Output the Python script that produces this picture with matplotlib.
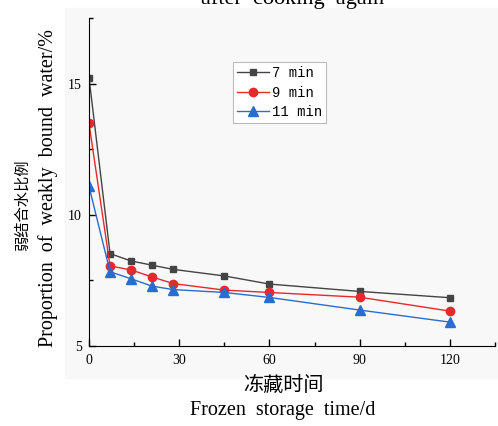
import matplotlib
matplotlib.use("Agg")
from matplotlib import pyplot as plt
from matplotlib.patches import Rectangle
from matplotlib.ticker import MultipleLocator

days = [0, 7, 14, 21, 28, 45, 60, 90, 120]
min7 = [15.23, 8.52, 8.24, 8.08, 7.92, 7.67, 7.36, 7.08, 6.84]
min9 = [13.48, 8.05, 7.90, 7.63, 7.38, 7.13, 7.04, 6.86, 6.33]
min11 = [11.08, 7.83, 7.56, 7.28, 7.15, 7.04, 6.85, 6.37, 5.91]
labels = ["7 min", "9 min", "11 min"]

serif = ["Liberation Serif", "DejaVu Serif"]
cjk = ["Noto Sans CJK SC", "DejaVu Sans"]

fig = plt.figure(figsize=(4.98, 4.26), dpi=100)
fig.patches.append(Rectangle((65 / 498, 1 - 378 / 426), 433 / 498, 370 / 426,
                             transform=fig.transFigure, color="#f8f8f8", zorder=-5))
ax = fig.add_axes([89 / 498, 1 - 346 / 426, 406 / 498, 328 / 426])
ax.set_zorder(2)
ax.patch.set_alpha(0)

ax.plot(days, min7, color="#444444", marker="s", markersize=5, lw=1, label=labels[0])
ax.plot(days, min9, color="#e8282a", marker="o", markersize=6, lw=1, label=labels[1])
ax.plot(days, min11, color="#2a6ccf", marker="^", markersize=6.5, lw=1, label=labels[2])

ax.set_xlim(0, 135)
ax.set_ylim(5, 17.5)
ax.xaxis.set_major_locator(MultipleLocator(30))
ax.xaxis.set_minor_locator(MultipleLocator(15))
ax.yaxis.set_major_locator(MultipleLocator(5))
ax.yaxis.set_minor_locator(MultipleLocator(2.5))
ax.tick_params(which="both", direction="in", width=1, labelsize=10)
ax.tick_params(which="major", length=5)
ax.tick_params(which="minor", length=3)
ax.tick_params(axis="x", pad=6)
ax.tick_params(axis="y", pad=5)
ax.spines["top"].set_visible(False)
ax.spines["right"].set_visible(False)
ax.set_xticks([0, 30, 60, 90, 120])
for tl in ax.get_xticklabels() + ax.get_yticklabels():
    tl.set_family(serif)

leg = ax.legend(loc="upper left", bbox_to_anchor=(233 / 498, 1 - 62 / 426),
                bbox_transform=fig.transFigure, prop={"family": "Liberation Mono", "size": 10},
                handlelength=2.3, handletextpad=0.2, labelspacing=0.4, borderpad=0.3,
                borderaxespad=0, fancybox=False, framealpha=1, edgecolor="#bbbbbb")
leg.get_frame().set_linewidth(0.8)

fig.text(293 / 498, 1 - 4 / 426, "after  cooking  again", family=serif, fontsize=16,
         ha="center", va="baseline")
fig.text(283 / 498, 1 - 385 / 426, "冻藏时间", family=cjk, fontsize=14.5, ha="center", va="center")
fig.text(283 / 498, 1 - 411 / 426, "Frozen  storage  time/d", family=serif, fontsize=14.5,
         ha="center", va="center")
fig.text(22 / 498, 1 - 205 / 426, "弱结合水比例", family=cjk, fontsize=11, rotation=90,
         ha="center", va="center")
fig.text(48 / 498, 1 - 188 / 426, "Proportion  of  weakly  bound  water/%", family=serif,
         fontsize=14.5, rotation=90, ha="center", va="center")

fig.savefig("out.png", dpi=100)
